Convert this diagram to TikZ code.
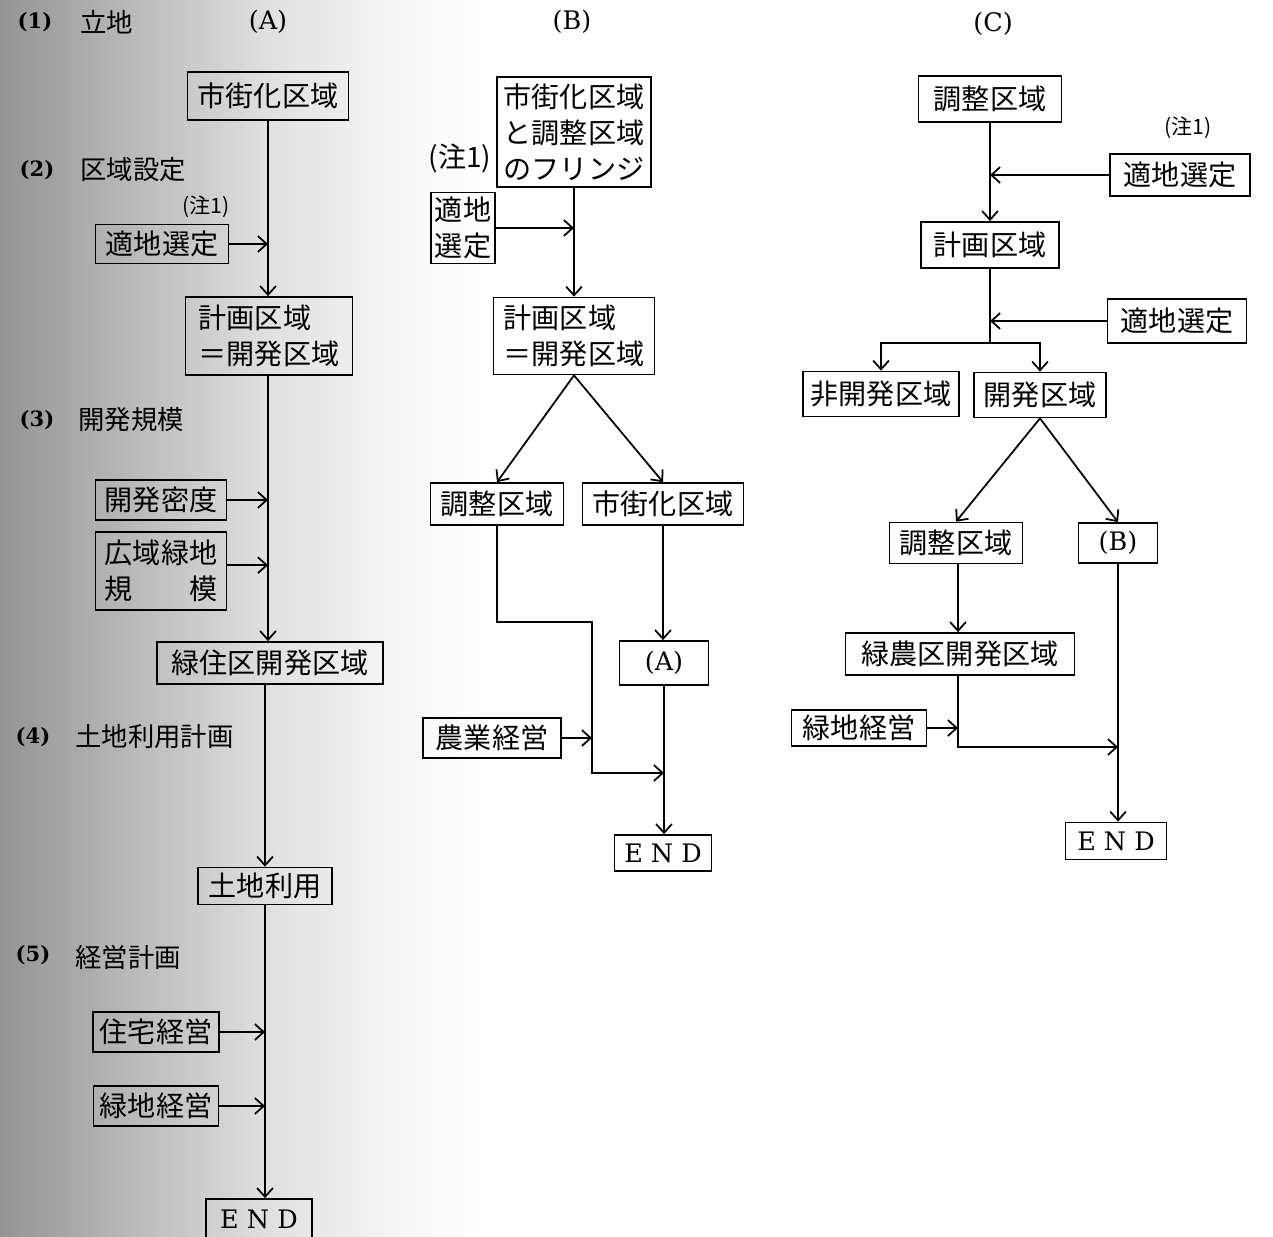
\documentclass[tikz,border=0pt]{standalone}
\usepackage{fontspec}
\usepackage{tikz}
\usetikzlibrary{positioning}
\usetikzlibrary{arrows.meta}
\newfontfamily\jp{Noto Sans CJK JP}
\newfontfamily\latin{DejaVu Serif}
\pgfdeclarehorizontalshading{scanfade}{100bp}{color(0bp)=(black!42); color(25bp)=(black!42); color(50bp)=(black!12); color(63bp)=(black!3); color(70bp)=(white); color(100bp)=(white)}
\tikzstyle{box} = [rectangle, draw=black, line width=1pt, inner sep=0pt, align=left, font=\jp\fontsize{16}{20.5}\selectfont]
\tikzstyle{endbox} = [rectangle, draw=black, line width=1pt, inner sep=0pt, font=\latin\fontsize{14.5}{18}\selectfont]
\tikzstyle{heading} = [anchor=west, inner sep=0pt, font=\jp\fontsize{15}{18}\selectfont]
\tikzstyle{num} = [inner sep=0pt, font=\latin\bfseries\fontsize{12}{16}\selectfont]
\tikzstyle{column} = [inner sep=0pt, font=\latin\fontsize{14.5}{18}\selectfont]
\tikzstyle{note} = [inner sep=0pt, font=\jp\fontsize{12}{14}\selectfont]
\tikzstyle{arrow} = [line width=1pt,-{Straight Barb[length=5pt,width=9pt]}]
\tikzstyle{line} = [line width=1pt]

\begin{document}
\begin{tikzpicture}[x=0.02cm, y=-0.02cm]

\useasboundingbox (0,0) rectangle (1273,1236);
\shade[shading=scanfade] (0,0) rectangle (540,1236);


% Steps

	\node (n1) [num] at (35,22) {(1)};
	\node (h1) [heading] at (80,22) {立地};
	\node (n2) [num] at (37,170) {(2)};
	\node (h2) [heading] at (80,170) {区域設定};
	\node (n3) [num] at (37,420) {(3)};
	\node (h3) [heading] at (78,420) {開発規模};
	\node (n4) [num] at (33,737) {(4)};
	\node (h4) [heading] at (75,737) {土地利用計画};
	\node (n5) [num] at (33,955) {(5)};
	\node (h5) [heading] at (75,957) {経営計画};


% Column heads

	\node (colA) [column] at (268,22) {(A)};
	\node (colB) [column] at (572,22) {(B)};
	\node (colC) [column] at (993,24) {(C)};


% Column A

	\node (aSite) [box, minimum width=3.22cm, minimum height=0.96cm] at (268,96) {市街化区域};
	\node (aNote) [note] at (206,207) {(注1)};
	\node (aTekichi) [box, minimum width=2.66cm, minimum height=0.78cm] at (162,244) {適地選定};
	\node (aPlan) [box, minimum width=3.34cm, minimum height=1.56cm] at (269,336) {計画区域\\＝開発区域};
	\node (aDensity) [box, minimum width=2.62cm, minimum height=0.8cm] at (161,500) {開発密度};
	\node (aWide) [box, minimum width=2.62cm, minimum height=1.56cm] at (161,571) {広域緑地\\規　　模};
	\node (aZone) [box, minimum width=4.52cm, minimum height=0.84cm] at (270,663) {緑住区開発区域};
	\node (aLand) [box, minimum width=2.68cm, minimum height=0.74cm] at (265,886) {土地利用};
	\node (aHousing) [box, minimum width=2.52cm, minimum height=0.8cm] at (156,1032) {住宅経営};
	\node (aGreen) [box, minimum width=2.5cm, minimum height=0.8cm] at (156,1106) {緑地経営};
	\node (aEnd) [endbox, minimum width=2.12cm, minimum height=0.8cm] at (259,1219) {E N D};


% Column B

	\node (bFringe) [box, minimum width=3.08cm, minimum height=2.2cm] at (574,132) {市街化区域\\と調整区域\\のフリンジ};
	\node (bNote) [note, font=\jp\fontsize{16}{18}\selectfont] at (460,158) {(注1)};
	\node (bTekichi) [box, minimum width=1.28cm, minimum height=1.42cm] at (463,228) {適地\\選定};
	\node (bPlan) [box, minimum width=3.22cm, minimum height=1.54cm] at (574,336) {計画区域\\＝開発区域};
	\node (bAdjust) [box, minimum width=2.66cm, minimum height=0.84cm] at (497,504) {調整区域};
	\node (bUrban) [box, minimum width=3.22cm, minimum height=0.84cm] at (663,504) {市街化区域};
	\node (bA) [endbox, minimum width=1.78cm, minimum height=0.88cm] at (664,663) {(A)};
	\node (bFarm) [box, minimum width=2.76cm, minimum height=0.8cm] at (492,738) {農業経営};
	\node (bEnd) [endbox, minimum width=1.94cm, minimum height=0.72cm] at (663,853) {E N D};

	\coordinate (bBend) at (592,622);
	\coordinate (bJoin) at (592,773);


% Column C

	\node (cAdjust) [box, minimum width=2.86cm, minimum height=0.92cm] at (990,99) {調整区域};
	\node (cNote) [note] at (1188,128) {(注1)};
	\node (cTekichiA) [box, minimum width=2.8cm, minimum height=0.84cm] at (1180,175) {適地選定};
	\node (cPlan) [box, minimum width=2.76cm, minimum height=0.92cm] at (990,245) {計画区域};
	\node (cTekichiB) [box, minimum width=2.78cm, minimum height=0.88cm] at (1177,321) {適地選定};
	\node (cNonDev) [box, minimum width=3.12cm, minimum height=0.9cm] at (881,394) {非開発区域};
	\node (cDev) [box, minimum width=2.64cm, minimum height=0.9cm] at (1040,395) {開発区域};
	\node (cAdjustB) [box, minimum width=2.66cm, minimum height=0.82cm] at (956,543) {調整区域};
	\node (cB) [endbox, minimum width=1.58cm, minimum height=0.8cm] at (1118,543) {(B)};
	\node (cFarmZone) [box, minimum width=4.58cm, minimum height=0.84cm] at (960,654) {緑農区開発区域};
	\node (cGreen) [box, minimum width=2.7cm, minimum height=0.72cm] at (859,728) {緑地経営};
	\node (cEnd) [endbox, minimum width=2.02cm, minimum height=0.74cm] at (1116,841) {E N D};

	\coordinate (cSplit) at (990,343);
	\coordinate (cJoin) at (958,747);




% Column A arrows

	\draw [arrow] (aSite) -- (aSite.south |- aPlan.north);
	\draw [arrow] (aTekichi.east) -- (aTekichi.east -| aSite.south);
	\draw [arrow] (aPlan.south -| aSite.south) -- (aSite.south |- aZone.north);
	\draw [arrow] (aDensity.east) -- (aDensity.east -| aSite.south);
	\draw [arrow] (aWide.5) -- (aWide.5 -| aSite.south);
	\draw [arrow] (aLand.north |- aZone.south) -- (aLand.north);
	\draw [arrow] (aLand.south) -- (aLand.south |- aEnd.north);
	\draw [arrow] (aHousing.east) -- (aHousing.east -| aLand.south);
	\draw [arrow] (aGreen.east) -- (aGreen.east -| aLand.south);


% Column B arrows

	\draw [arrow] (bFringe.south) -- (bPlan.north);
	\draw [arrow] (bTekichi.east) -- (bTekichi.east -| bFringe.south);
	\draw [arrow] (bPlan.south) -- (bAdjust.north);
	\draw [arrow] (bPlan.south) -- (bUrban.north);
	\draw [arrow] (bUrban.south) -- (bUrban.south |- bA.north);
	\draw [arrow] (bA.south) -- (bA.south |- bEnd.north);
	\draw [arrow] (bAdjust.south) |- (bBend) -- (bJoin) -- (bJoin -| bA.south);
	\draw [arrow] (bFarm.east) -- (bFarm.east -| bBend);


% Column C arrows

	\draw [arrow] (cAdjust.south) -- (cPlan.north);
	\draw [arrow] (cTekichiA.west) -- (cTekichiA.west -| cAdjust.south);
	\draw [line] (cPlan.south) -- (cSplit);
	\draw [arrow] (cTekichiB.west) -- (cTekichiB.west -| cPlan.south);
	\draw [arrow] (cSplit) -| (cNonDev.north);
	\draw [arrow] (cSplit) -| (cDev.north);
	\draw [arrow] (cDev.south) -- (cAdjustB.north);
	\draw [arrow] (cDev.south) -- (cB.north);
	\draw [arrow] (cAdjustB.south -| cJoin) -- (cJoin |- cFarmZone.north);
	\draw [arrow] (cJoin |- cFarmZone.south) -- (cJoin) -- (cJoin -| cB.south);
	\draw [arrow] (cGreen.east) -- (cGreen.east -| cJoin);
	\draw [arrow] (cB.south) -- (cB.south |- cEnd.north);


\end{tikzpicture}
\end{document}
